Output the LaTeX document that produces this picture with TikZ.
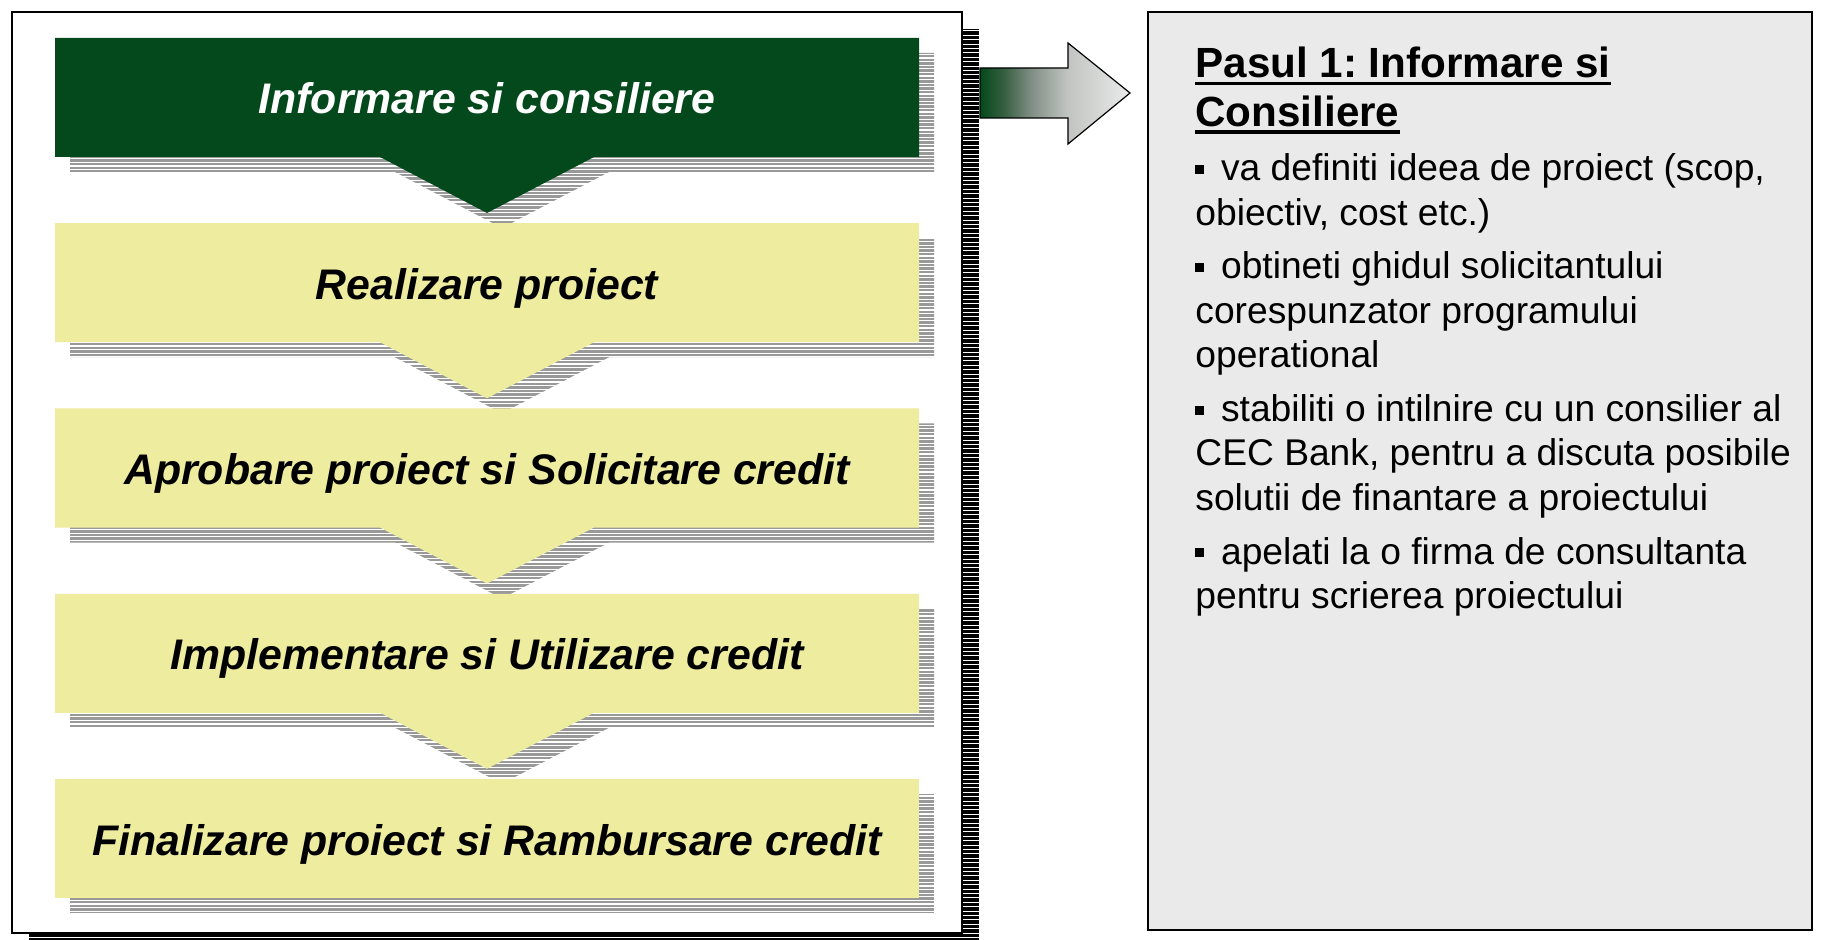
\documentclass[tikz,border=0pt]{standalone}
\usepackage{fontspec}
\setmainfont{Liberation Sans}
\frenchspacing
\definecolor{dkgreen}{RGB}{3,73,27}
\definecolor{paleyel}{RGB}{238,236,158}
\definecolor{shadowgray}{RGB}{153,153,153}
\definecolor{panelgray}{RGB}{234,234,234}
\definecolor{sA}{RGB}{55,95,65}
\definecolor{sB}{RGB}{128,142,132}
\definecolor{sC}{RGB}{192,196,193}
\definecolor{sD}{RGB}{234,234,234}
\pgfdeclarehorizontalshading{arrowfade}{100bp}{color(0bp)=(dkgreen); color(25bp)=(dkgreen); color(33bp)=(sA); color(42bp)=(sB); color(54bp)=(sC); color(75bp)=(sD); color(100bp)=(sD)}
\newcommand\boxpath[1]{(55,#1) -- (919,#1) -- (919,#1+119) -- (594,#1+119) -- (487,#1+175) -- (380,#1+119) -- (55,#1+119) -- cycle}
\newcommand\bul{\rule[0.2em]{0.23em}{0.23em}\hspace{0.46em}}
\begin{document}
\begin{tikzpicture}[x=0.5pt,y=-0.5pt,
  boxtext/.style={anchor=base,inner sep=0pt,font=\fontsize{21.4}{25}\selectfont\bfseries\itshape},
  titletext/.style={anchor=base west,inner sep=0pt,font=\fontsize{21.1}{25}\selectfont\bfseries},
  bodytext/.style={anchor=base west,inner sep=0pt,font=\fontsize{18.6}{22}\selectfont}]
\useasboundingbox (0,0) rectangle (1824,940);
% frame shadow
\fill[black] (29,29) rectangle (979,952);
\foreach \y in {31,35.4,...,952} \draw[white,line width=0.5pt] (29,\y) -- (979,\y);
% frame
\draw[fill=white,line width=1pt] (12,12) rectangle (962,933);
% box shadows
\foreach \t in {38,223.25,408.5,593.75} \fill[shadowgray,shift={(15,15)}] \boxpath{\t};
\fill[shadowgray] (70,794) rectangle (934,913);
\foreach \y in {40,43.6,...,930} \draw[white,line width=0.6pt] (56,\y) -- (950,\y);
% boxes
\fill[dkgreen] \boxpath{38};
\fill[paleyel] \boxpath{223.25};
\fill[paleyel] \boxpath{408.5};
\fill[paleyel] \boxpath{593.75};
\fill[paleyel] (55,779) rectangle (919,898);
\node[boxtext,white] (b1) at (487,114) {Informare si consiliere};
\node[boxtext] (b2) at (487,299.25) {Realizare proiect};
\node[boxtext] (b3) at (487,484.5) {Aprobare proiect si Solicitare credit};
\node[boxtext] (b4) at (487,669.75) {Implementare si Utilizare credit};
\node[boxtext] (b5) at (487,855) {Finalizare proiect si Rambursare credit};
% block arrow
\shade[shading=arrowfade,draw=black,line width=0.6pt] (980,68) -- (1068,68) -- (1068,43) -- (1130,93) -- (1068,144) -- (1068,118) -- (980,118) -- cycle;
% right panel
\draw[fill=panelgray,line width=0.75pt] (1148,12) rectangle (1812,930);
\node[titletext] (t1) at (1195,78) {Pasul 1: Informare si};
\node[titletext] (t2) at (1195,126.5) {Consiliere};
\draw[line width=1.6pt] ([yshift=-2.8pt]t1.base west) -- ([yshift=-2.8pt]t1.base east);
\draw[line width=1.6pt] ([yshift=-2.8pt]t2.base west) -- ([yshift=-2.8pt]t2.base east);
\node[bodytext] (l1) at (1195,181) {\bul va definiti ideea de proiect (scop,};
\node[bodytext] (l2) at (1195,225.5) {obiectiv, cost etc.)};
\node[bodytext] (l3) at (1195,279) {\bul obtineti ghidul solicitantului};
\node[bodytext] (l4) at (1195,324) {corespunzator programului};
\node[bodytext] (l5) at (1195,368) {operational};
\node[bodytext] (l6) at (1195,422) {\bul stabiliti o intilnire cu un consilier al};
\node[bodytext] (l7) at (1195,466) {CEC Bank, pentru a discuta posibile};
\node[bodytext] (l8) at (1195,510) {solutii de finantare a proiectului};
\node[bodytext] (l9) at (1195,564) {\bul apelati la o firma de consultanta};
\node[bodytext] (l10) at (1195,608) {pentru scrierea proiectului};
\end{tikzpicture}
\end{document}
